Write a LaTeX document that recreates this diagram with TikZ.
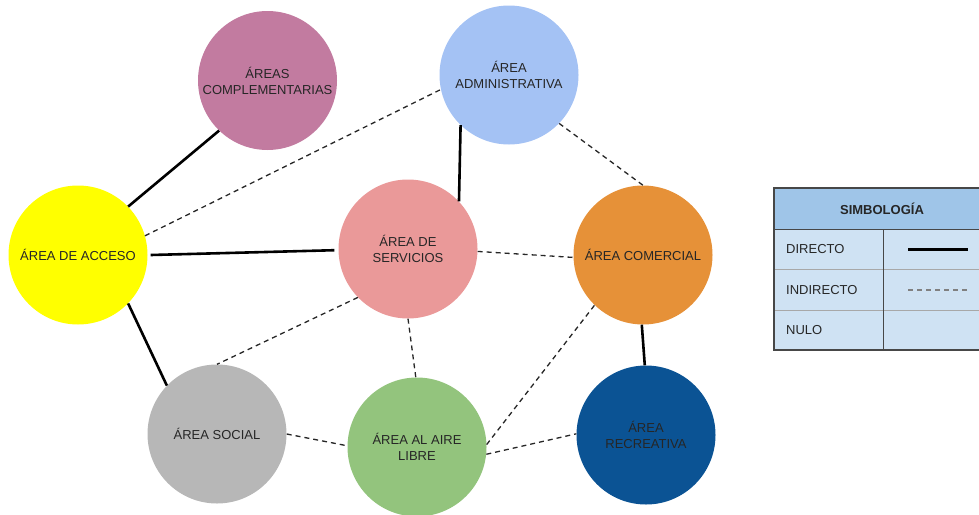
\documentclass[tikz,border=0pt]{standalone}
\usepackage{fontspec}
\setmainfont{Liberation Sans}
\definecolor{txt}{HTML}{262626}
\definecolor{cComp}{HTML}{C27BA0}
\definecolor{cAdm}{HTML}{A4C2F4}
\definecolor{cAcc}{HTML}{FFFF00}
\definecolor{cSer}{HTML}{EA9999}
\definecolor{cCom}{HTML}{E69138}
\definecolor{cSoc}{HTML}{B7B7B7}
\definecolor{cAir}{HTML}{93C47D}
\definecolor{cRec}{HTML}{0B5394}
\definecolor{legHead}{HTML}{9FC5E8}
\definecolor{legRow}{HTML}{CFE2F3}
\definecolor{legEdge}{HTML}{474747}
\definecolor{legRule}{HTML}{A8A8A8}
\begin{document}
\begin{tikzpicture}[x=1pt,y=-1pt,
  area/.style={circle, minimum size=139pt, inner sep=0pt, align=center,
    font=\fontsize{13}{16}\selectfont, text=txt},
  direct/.style={line width=2.6pt, black},
  indirect/.style={line width=1.3pt, black!85, dash pattern=on 5pt off 4pt},
  legtext/.style={anchor=west, inner sep=0pt, font=\fontsize{13}{16}\selectfont, text=txt},
]
\useasboundingbox (0,0) rectangle (979,514);

% areas
\node[area, fill=cComp] (comp) at (267.5,80.5) {ÁREAS\\COMPLEMENTARIAS};
\node[area, fill=cAdm]  (adm)  at (509,75)   {ÁREA\\ADMINISTRATIVA};
\node[area, fill=cAcc]  (acc)  at (78,255)   {ÁREA DE ACCESO};
\node[area, fill=cSer]  (ser)  at (408,249)  {ÁREA DE\\SERVICIOS};
\node[area, fill=cCom]  (com)  at (643,255)  {ÁREA COMERCIAL};
\node[area, fill=cSoc]  (soc)  at (217,434)  {ÁREA SOCIAL};
\node[area, fill=cAir]  (air)  at (417,447)  {ÁREA AL AIRE\\LIBRE};
\node[area, fill=cRec]  (rec)  at (646,435)  {ÁREA\\RECREATIVA};

% direct relations
\draw[direct] (acc.44) -- (comp.226);
\draw[direct] ([xshift=3pt]acc.0) -- ([xshift=-4pt]ser.181);
\draw[direct] (acc.316) -- (soc.136);
\draw[direct] (adm.226) -- (ser.43);
\draw[direct] (com.269) -- (rec.91);

% indirect relations
\draw[indirect] (acc.16) -- (adm.192);
\draw[indirect] (adm.316) -- (com.90);
\draw[indirect] (ser.358) -- (com.182);
\draw[indirect] (ser.224) -- (soc.90);
\draw[indirect] (ser.270) -- (air.91);
\draw[indirect] (soc.0) -- (air.179);
\draw[indirect] (air.2) -- (com.226);
\draw[indirect] (air.354) -- (rec.179);

% legend table
\fill[legHead] (774,188) rectangle (995,229);
\fill[legRow]  (774,229) rectangle (995,350);
\draw[legRule, line width=1pt] (774,269.5) -- (995,269.5)
                              (774,310) -- (995,310);
\draw[legEdge, line width=1pt] (774,229) -- (995,229)
                              (883,229) -- (883,350);
\draw[legEdge, line width=1.2pt] (995,188) -- (774,188) -- (774,350) -- (995,350);

\node[font=\fontsize{13}{16}\selectfont\bfseries, text=txt] (legtitle) at (882,209) {SIMBOLOGÍA};
\node[legtext] (legdir) at (786,249.5) {DIRECTO};
\node[legtext] (legind) at (786,290) {INDIRECTO};
\node[legtext] (legnul) at (786,330) {NULO};

\coordinate (ds) at (908,249.5);
\coordinate (de) at (968,249.5);
\coordinate (is) at (908,290);
\coordinate (ie) at (968,290);
\draw[line width=2.4pt, black] (ds) -- (de);
\draw[line width=1.3pt, black!50, dash pattern=on 5pt off 4pt] (is) -- (ie);
\end{tikzpicture}
\end{document}
